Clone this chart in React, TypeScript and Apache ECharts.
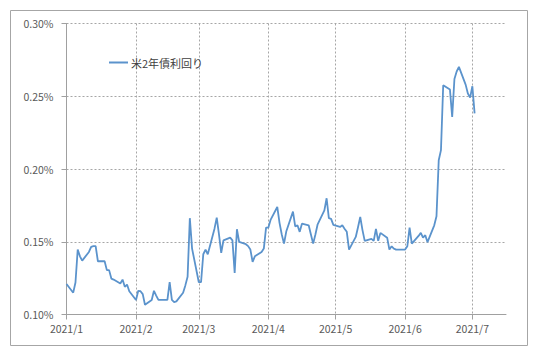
import React, { useEffect, useRef } from "react";
import * as echarts from "echarts";

const seriesName = "米2年債利回り";

const dates = [
  "2021-01-01", "2021-01-04", "2021-01-05", "2021-01-06", "2021-01-07", "2021-01-08",
  "2021-01-11", "2021-01-12", "2021-01-13", "2021-01-14", "2021-01-15", "2021-01-18",
  "2021-01-19", "2021-01-20", "2021-01-21", "2021-01-22", "2021-01-25", "2021-01-26",
  "2021-01-27", "2021-01-28", "2021-01-29",
  "2021-02-01", "2021-02-02", "2021-02-03", "2021-02-04", "2021-02-05", "2021-02-08",
  "2021-02-09", "2021-02-10", "2021-02-11", "2021-02-12", "2021-02-15", "2021-02-16",
  "2021-02-17", "2021-02-18", "2021-02-19", "2021-02-22", "2021-02-23", "2021-02-24",
  "2021-02-25", "2021-02-26",
  "2021-03-01", "2021-03-02", "2021-03-03", "2021-03-04", "2021-03-05", "2021-03-08",
  "2021-03-09", "2021-03-10", "2021-03-11", "2021-03-12", "2021-03-15", "2021-03-16",
  "2021-03-17", "2021-03-18", "2021-03-19", "2021-03-22", "2021-03-23", "2021-03-24",
  "2021-03-25", "2021-03-26", "2021-03-29", "2021-03-30", "2021-03-31",
  "2021-04-01", "2021-04-02", "2021-04-05", "2021-04-06", "2021-04-07", "2021-04-08",
  "2021-04-09", "2021-04-12", "2021-04-13", "2021-04-14", "2021-04-15", "2021-04-16",
  "2021-04-19", "2021-04-20", "2021-04-21", "2021-04-22", "2021-04-23", "2021-04-26",
  "2021-04-27", "2021-04-28", "2021-04-29", "2021-04-30",
  "2021-05-03", "2021-05-04", "2021-05-05", "2021-05-06", "2021-05-07", "2021-05-10",
  "2021-05-11", "2021-05-12", "2021-05-13", "2021-05-14", "2021-05-17", "2021-05-18",
  "2021-05-19", "2021-05-20", "2021-05-21", "2021-05-24", "2021-05-25", "2021-05-26",
  "2021-05-27", "2021-05-28",
  "2021-06-01", "2021-06-02", "2021-06-03", "2021-06-04", "2021-06-07", "2021-06-08",
  "2021-06-09", "2021-06-10", "2021-06-11", "2021-06-14", "2021-06-15", "2021-06-16",
  "2021-06-17", "2021-06-18", "2021-06-21", "2021-06-22", "2021-06-23", "2021-06-24",
  "2021-06-25", "2021-06-28", "2021-06-29", "2021-06-30",
  "2021-07-01", "2021-07-02",
];

const yields = [
  0.121, 0.115, 0.122, 0.1446, 0.140, 0.137,
  0.143, 0.1465, 0.147, 0.147, 0.1366, 0.1366,
  0.1305, 0.1305, 0.1247, 0.124, 0.1213, 0.124,
  0.119, 0.1206, 0.116,
  0.110, 0.1163, 0.116, 0.114, 0.1067, 0.110,
  0.1163, 0.113, 0.110, 0.110, 0.110, 0.1222,
  0.110, 0.1085, 0.109, 0.115, 0.120, 0.126,
  0.1662, 0.1453,
  0.1222, 0.1222, 0.1414, 0.1446, 0.1414, 0.159,
  0.1666, 0.155, 0.1423, 0.151, 0.1528, 0.151,
  0.1286, 0.1586, 0.1499, 0.1483, 0.147, 0.1446,
  0.1362, 0.140, 0.143, 0.1453, 0.1597,
  0.1597, 0.165, 0.1739, 0.163, 0.155, 0.1487,
  0.157, 0.1707, 0.1606, 0.1613, 0.1568, 0.1624,
  0.1613, 0.155, 0.1487, 0.155, 0.162, 0.1716,
  0.1799, 0.1662, 0.1657, 0.1616,
  0.1602, 0.1613, 0.159, 0.1568, 0.1446, 0.1533,
  0.160, 0.167, 0.158, 0.1506, 0.152, 0.1506,
  0.1588, 0.1506, 0.1561, 0.1528, 0.1446, 0.1469,
  0.1453, 0.1446,
  0.1446, 0.1469, 0.1597, 0.1487, 0.154, 0.1561,
  0.1528, 0.1545, 0.1497, 0.1613, 0.1675, 0.206,
  0.213, 0.2576, 0.2546, 0.2358, 0.2619, 0.267,
  0.2702, 0.258, 0.2519, 0.2491,
  0.2569, 0.2382,
];

const axisStart = "2021-01-01";
const axisEnd = "2021-07-16";
const yMin = 0.1;
const yMax = 0.3;
const yStep = 0.05;

function pad(n: number) {
  return n < 10 ? "0" + n : "" + n;
}

function buildDays(start: string, end: string) {
  const [sy, sm, sd] = start.split("-").map(Number);
  const [ey, em, ed] = end.split("-").map(Number);
  let t = Date.UTC(sy, sm - 1, sd);
  const tEnd = Date.UTC(ey, em - 1, ed);
  const out: string[] = [];
  while (t <= tEnd) {
    const d = new Date(t);
    out.push(`${d.getUTCFullYear()}-${pad(d.getUTCMonth() + 1)}-${pad(d.getUTCDate())}`);
    t += 86400000;
  }
  return out;
}

export default function App() {
  const ref = useRef<HTMLDivElement>(null);

  useEffect(() => {
    document.body.style.margin = "0";
    if (!ref.current) return;
    const chart = echarts.init(ref.current, undefined, { renderer: "svg" });
    const days = buildDays(axisStart, axisEnd);
    const map = new Map<string, number>();
    dates.forEach((d, i) => map.set(d, yields[i]));
    const data = days.map((d) => (map.has(d) ? map.get(d)! : null));
    const isMonthStart = (_i: number, v: string) => v.endsWith("-01");
    const font = "'Noto Sans CJK JP', 'Noto Sans', sans-serif";

    chart.setOption({
      animation: false,
      backgroundColor: "#ffffff",
      textStyle: { fontFamily: font },
      graphic: [
        {
          type: "rect",
          silent: true,
          z: -10,
          shape: { x: 10.5, y: 10.5, width: 517, height: 335 },
          style: { fill: "none", stroke: "#a6a6a6", lineWidth: 1 },
        },
      ],
      grid: { left: 66.5, top: 23.5, right: 34, bottom: 42.5, containLabel: false },
      legend: {
        show: true,
        left: 104,
        top: 52,
        icon: "rect",
        itemWidth: 19,
        itemHeight: 2,
        itemGap: 4,
        textStyle: { fontSize: 11, color: "#404040", fontFamily: font, padding: [0, 0, 0, -2] },
        data: [{ name: seriesName, icon: "rect" }],
      },
      xAxis: {
        type: "category",
        boundaryGap: false,
        data: days,
        axisLine: { show: true, lineStyle: { color: "#a0a0a0", width: 1 } },
        axisTick: { show: true, interval: isMonthStart, length: 5, lineStyle: { color: "#a0a0a0" } },
        axisLabel: {
          interval: isMonthStart,
          margin: 9,
          fontSize: 10.5,
          color: "#595959",
          fontFamily: font,
          formatter: (v: string) => {
            const [y, m] = v.split("-");
            return `${y}/${parseInt(m, 10)}`;
          },
        },
        splitLine: {
          show: true,
          interval: isMonthStart,
          lineStyle: { color: "#a6a6a6", type: [2, 2], width: 1 },
        },
      },
      yAxis: {
        type: "value",
        min: yMin,
        max: yMax,
        interval: yStep,
        axisLine: { show: true, lineStyle: { color: "#a0a0a0", width: 1 } },
        axisTick: { show: true, length: 5, lineStyle: { color: "#a0a0a0" } },
        axisLabel: {
          margin: 13,
          fontSize: 10.5,
          color: "#595959",
          fontFamily: font,
          formatter: (v: number) => v.toFixed(2) + "%",
        },
        splitLine: {
          show: true,
          lineStyle: { color: "#a6a6a6", type: [2, 2], width: 1 },
        },
      },
      series: [
        {
          name: seriesName,
          type: "line",
          data,
          connectNulls: true,
          symbol: "none",
          showSymbol: false,
          lineStyle: { color: "#5b93cc", width: 1.8 },
          itemStyle: { color: "#5b93cc" },
        },
      ],
    });

    return () => chart.dispose();
  }, []);

  return <div ref={ref} style={{ width: 540, height: 357 }} />;
}
